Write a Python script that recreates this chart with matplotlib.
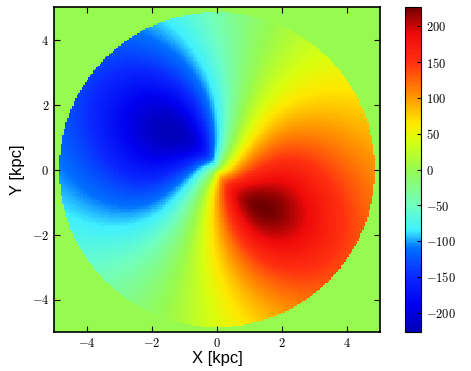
import numpy as np
import matplotlib
matplotlib.use("Agg")
import matplotlib.pyplot as plt
from matplotlib.colors import LinearSegmentedColormap

# ---- values ----
disk_radius = 4.87        # kpc, edge of the map
v_peak = 227.0            # km/s, extreme velocity
r_peak = 1.9              # kpc, radius of the velocity extremes
rise_slope = 0.7          # steepness of the inner rise
fall_slope = 1.3          # fall-off of the amplitude beyond the peak
axis_angle_centre = -62.0 # deg, direction of the receding side at the centre
axis_angle_edge = -35.0   # deg, direction of the receding side at the edge
axis_twist_scale = 1.0    # kpc
zero_ccw = 105.0          # deg from the receding axis to the first zero line
flatten = 0.7             # compression of the angular profile
v_background = 0.0        # value outside the disk
n_pix = 200
x_range = [-5, 5]
y_range = [-5, 5]
x_ticks = [-4, -2, 0, 2, 4]
y_ticks = [-4, -2, 0, 2, 4]
cbar_ticks = [-200, -150, -100, -50, 0, 50, 100, 150, 200]

# colour scale: (value, colour)
cbar_values = [-227, -190, -150, -110, -85, -50, 0, 40, 65, 100, 150, 190, 227]
cbar_colors = ['#0000b8', '#0000f0', '#0a28ff', '#0070ff', '#40f0ff', '#70ffc0', '#96fa50',
               '#d8ff10', '#ffe800', '#ff9a00', '#ff3010', '#f00a0a', '#700000']

xs = np.linspace(x_range[0], x_range[1], n_pix)
ys = np.linspace(y_range[0], y_range[1], n_pix)
X, Y = np.meshgrid(xs, ys)
r_sky = np.hypot(X, Y)
theta = np.arctan2(Y, X)
theta0 = np.radians(axis_angle_edge + (axis_angle_centre - axis_angle_edge)
                    * np.exp(-r_sky / axis_twist_scale))
phi = theta - theta0
pz = np.radians(zero_ccw)
k = (np.pi / 2 - pz) / (np.cos(2 * pz) - 1)
psi = phi + k * (np.cos(2 * phi) - 1)
ang = np.cos(psi) / np.sqrt(np.cos(psi) ** 2 + np.sin(psi) ** 2 / flatten ** 2)
u = r_sky / r_peak
shape = 2 * u / (1 + u ** 2)
amp = np.where(u < 1, shape ** rise_slope, shape ** fall_slope)
V = v_peak * amp * ang
V[r_sky > disk_radius] = v_background

vmin, vmax = cbar_values[0], cbar_values[-1]
nodes = [(v - vmin) / (vmax - vmin) for v in cbar_values]
cmap = LinearSegmentedColormap.from_list('vel', list(zip(nodes, cbar_colors)))

plt.rcParams['mathtext.fontset'] = 'cm'
fig = plt.figure(figsize=(4.71, 3.71), dpi=100)
ax = fig.add_axes([54/471, 1 - 332/371, 326/471, 325/371])
im = ax.imshow(V, origin='lower', extent=[x_range[0], x_range[1], y_range[0], y_range[1]],
               cmap=cmap, vmin=vmin, vmax=vmax, interpolation='nearest', aspect='auto')
ax.set_xticks(x_ticks)
ax.set_yticks(y_ticks)
ax.set_xticklabels([r'$%d$' % t for t in x_ticks])
ax.set_yticklabels([r'$%d$' % t for t in y_ticks])
ax.tick_params(direction='in', top=True, right=True, labelsize=9, length=4)
for s in ax.spines.values():
    s.set_linewidth(1.2)
ax.set_xlabel('X [kpc]', fontsize=12, family='Liberation Sans', labelpad=1)
ax.set_ylabel('Y [kpc]', fontsize=12, family='Liberation Sans', labelpad=5)

cax = fig.add_axes([405/471, 1 - 332/371, 16/471, 325/371])
cb = fig.colorbar(im, cax=cax, ticks=cbar_ticks)
cb.ax.set_yticklabels([r'$%d$' % t for t in cbar_ticks])
cb.ax.tick_params(labelsize=9, direction='in', length=3)
fig.savefig('out.png', dpi=100)
